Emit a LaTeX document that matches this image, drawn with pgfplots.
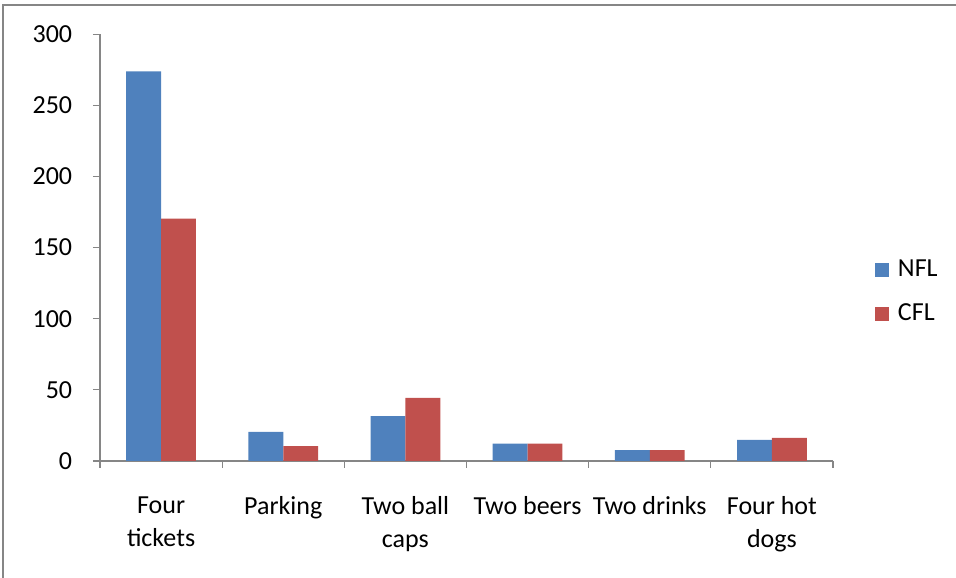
\documentclass[border=0pt]{standalone}
\usepackage{fontspec}
\setmainfont{Carlito}
\usepackage{pgfplots}
\pgfplotsset{compat=1.18}
\definecolor{nflblue}{HTML}{4F81BD}
\definecolor{cflred}{HTML}{C0504D}
\definecolor{axgray}{HTML}{868686}
\begin{document}
\fontsize{26}{33}\selectfont
\begin{tikzpicture}
\useasboundingbox (0pt,0pt) rectangle (956pt,578pt);
\draw[axgray, line width=1.2pt] (3pt,0pt) -- (3pt,573pt) -- (956pt,573pt);
\begin{axis}[
  at={(100pt,117pt)}, anchor=south west,
  scale only axis, width=733pt, height=426.7pt,
  xmin=0, xmax=6, ymin=0, ymax=300,
  axis x line*=bottom, axis y line*=left,
  axis line style={axgray, line width=1.2pt, -},
  ytick={0,50,...,300},
  xtick={0.5,1.5,...,5.5},
  xticklabels={{Four\\tickets},Parking,{Two ball\\caps},Two beers,Two drinks,{Four hot\\dogs}},
  xticklabel style={align=center, anchor=north, yshift=-20pt},
  yticklabel style={xshift=-12pt},
  minor xtick={0,...,6},
  major x tick style={draw=none},
  tick style={axgray, line width=1.2pt},
  tick align=outside, major tick length=7pt, minor tick length=7pt,
  /pgf/number format/assume math mode=true,
  ticklabel style={font=\fontsize{26}{33}\selectfont},
  ybar=0pt, bar width=34.9pt,
  legend style={at={(1.057,0.396)}, anchor=west, draw=none, fill=none, inner sep=0pt,
    row sep=20pt, column sep=7pt, font=\fontsize{26}{31}\selectfont, cells={anchor=west}},
  mylegend/.style={legend image code/.code={\path[##1] (0pt,-7pt) rectangle (14pt,7pt);}},
]
\addplot[fill=nflblue, draw=none, mylegend] coordinates {(0.5,274) (1.5,20.4) (2.5,31.6) (3.5,12.2) (4.5,7.7) (5.5,14.8)};
\addplot[fill=cflred, draw=none, mylegend] coordinates {(0.5,170.4) (1.5,10.5) (2.5,44.3) (3.5,12.2) (4.5,7.7) (5.5,16.2)};
\legend{NFL,CFL}
\end{axis}
\end{tikzpicture}
\end{document}
